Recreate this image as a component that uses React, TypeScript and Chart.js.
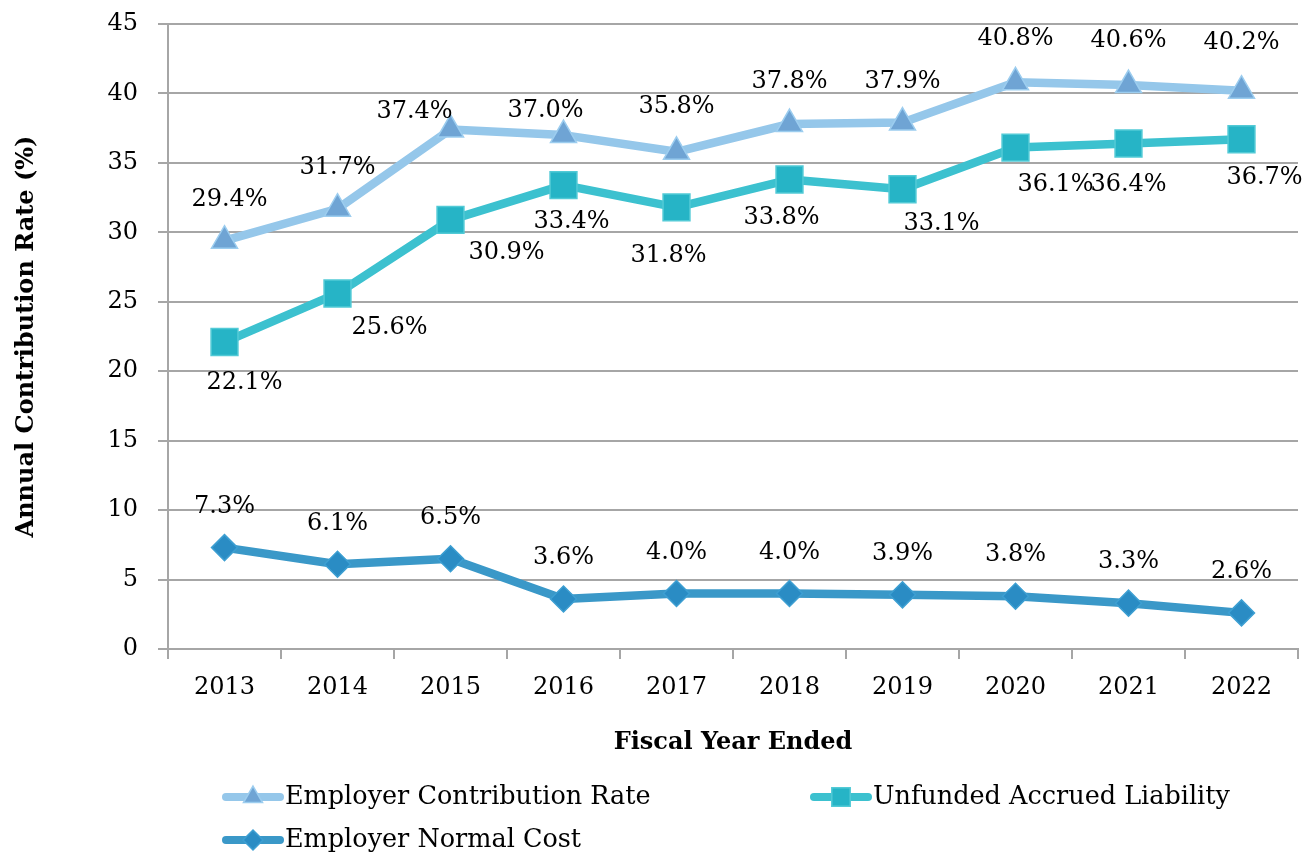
import React, { useEffect, useRef } from 'react';
import { Chart, registerables } from 'chart.js';

Chart.register(...registerables);

const years = ['2013', '2014', '2015', '2016', '2017', '2018', '2019', '2020', '2021', '2022'];
const employerContributionRate = [29.4, 31.7, 37.4, 37.0, 35.8, 37.8, 37.9, 40.8, 40.6, 40.2];
const unfundedAccruedLiability = [22.1, 25.6, 30.9, 33.4, 31.8, 33.8, 33.1, 36.1, 36.4, 36.7];
const employerNormalCost = [7.3, 6.1, 6.5, 3.6, 4.0, 4.0, 3.9, 3.8, 3.3, 2.6];
const yTickValues = [0, 5, 10, 15, 20, 25, 30, 35, 40, 45];
const seriesNames = ['Employer Contribution Rate', 'Unfunded Accrued Liability', 'Employer Normal Cost'];

// label nudges (pixels, relative to each point)
const ecrLabelDx = [5, 0, -36, -18, 0, 0, 0, 0, 0, 0];
const ecrLabelDy = [-41, -41, -18, -24, -45, -42, -41, -44, -44, -48];
const ualLabelDx = [20, 52, 56, 8, -8, -8, 39, 40, 0, 23];
const ualLabelDy = [41, 34, 33, 37, 48, 38, 34, 37, 41, 38];
const encLabelDx = [0, 0, 0, 0, 0, 0, 0, 0, 0, 0];
const encLabelDy = [-41, -41, -41, -41, -41, -41, -41, -41, -41, -41];

const FONT = "'DejaVu Serif', serif";
const GRID = '#a6a6a6';

const lineColors = ['#95c7ea', '#3cc1cf', '#3a98c8'];
const fillColors = ['#6fa4d4', '#26b4c6', '#2a8cc4'];
const borderColors = ['#9ccdef', '#52cad6', '#3d9fd2'];
const pointStyles = ['triangle', 'rect', 'rectRot'];

function drawMarker(ctx: CanvasRenderingContext2D, style: string, x: number, y: number, r: number, fill: string, stroke: string) {
  ctx.save();
  ctx.beginPath();
  if (style === 'triangle') {
    let rad = 0;
    ctx.moveTo(x + Math.sin(rad) * r, y - Math.cos(rad) * r);
    rad += (2 * Math.PI) / 3;
    ctx.lineTo(x + Math.sin(rad) * r, y - Math.cos(rad) * r);
    rad += (2 * Math.PI) / 3;
    ctx.lineTo(x + Math.sin(rad) * r, y - Math.cos(rad) * r);
    ctx.closePath();
  } else if (style === 'rect') {
    const s = Math.SQRT1_2 * r;
    ctx.rect(x - s, y - s, 2 * s, 2 * s);
  } else {
    ctx.moveTo(x - r, y);
    ctx.lineTo(x, y - r);
    ctx.lineTo(x + r, y);
    ctx.lineTo(x, y + r);
    ctx.closePath();
  }
  ctx.fillStyle = fill;
  ctx.fill();
  ctx.strokeStyle = stroke;
  ctx.lineWidth = 1.5;
  ctx.stroke();
  ctx.restore();
}

const labelPlugin = {
  id: 'valueLabels',
  afterDatasetsDraw(chart: any) {
    const ctx = chart.ctx as CanvasRenderingContext2D;
    const offsets = [
      [ecrLabelDx, ecrLabelDy],
      [ualLabelDx, ualLabelDy],
      [encLabelDx, encLabelDy],
    ];
    ctx.save();
    ctx.font = `24px ${FONT}`;
    ctx.fillStyle = '#000';
    ctx.textAlign = 'center';
    ctx.textBaseline = 'middle';
    chart.data.datasets.forEach((ds: any, i: number) => {
      const meta = chart.getDatasetMeta(i);
      meta.data.forEach((pt: any, j: number) => {
        const v = ds.data[j] as number;
        ctx.fillText(v.toFixed(1) + '%', pt.x + offsets[i][0][j], pt.y + offsets[i][1][j]);
      });
    });
    ctx.restore();
  },
};

const legendPlugin = {
  id: 'customLegend',
  afterDraw(chart: any) {
    const ctx = chart.ctx as CanvasRenderingContext2D;
    const slots = [
      { x: 222, y: 797 },
      { x: 810, y: 797 },
      { x: 222, y: 840 },
    ];
    const markerR = [11, 13, 10];
    ctx.save();
    chart.data.datasets.forEach((ds: any, i: number) => {
      const { x, y } = slots[i];
      ctx.beginPath();
      ctx.moveTo(x + 4, y);
      ctx.lineTo(x + 58, y);
      ctx.strokeStyle = lineColors[i];
      ctx.lineWidth = 8;
      ctx.lineCap = 'round';
      ctx.stroke();
      drawMarker(ctx, pointStyles[i], x + 31, y, markerR[i], fillColors[i], borderColors[i]);
      ctx.font = `25.5px ${FONT}`;
      ctx.fillStyle = '#000';
      ctx.textAlign = 'left';
      ctx.textBaseline = 'middle';
      ctx.fillText(ds.label, x + 63, y);
    });
    ctx.restore();
  },
};

export default function App() {
  const canvasRef = useRef<HTMLCanvasElement | null>(null);

  useEffect(() => {
    document.body.style.margin = '0';
    const canvas = canvasRef.current;
    if (!canvas) return;
    const seriesData = [employerContributionRate, unfundedAccruedLiability, employerNormalCost];
    const radii = [15, 19, 13];
    const chart = new Chart(canvas, {
      type: 'line',
      data: {
        labels: years,
        datasets: seriesData.map((d, i) => ({
          label: seriesNames[i],
          data: d,
          borderColor: lineColors[i],
          borderWidth: 8.5,
          pointStyle: pointStyles[i] as any,
          pointRadius: radii[i],
          pointBackgroundColor: fillColors[i],
          pointBorderColor: borderColors[i],
          pointBorderWidth: 1.5,
          tension: 0,
          borderJoinStyle: 'round' as const,
          borderCapStyle: 'round' as const,
        })),
      },
      options: {
        responsive: false,
        animation: false,
        devicePixelRatio: 1,
        layout: { autoPadding: false, padding: { left: 8, right: 9, top: 24, bottom: 99 } },
        plugins: {
          legend: { display: false },
          tooltip: { enabled: false },
        },
        scales: {
          x: {
            type: 'category',
            offset: true,
            grid: {
              offset: true,
              drawOnChartArea: false,
              drawTicks: true,
              tickLength: 10,
              color: GRID,
              lineWidth: 2,
            },
            border: { display: true, color: GRID, width: 2 },
            ticks: {
              font: { family: FONT, size: 24 },
              color: '#000',
              padding: 14,
              maxRotation: 0,
            },
            title: {
              display: true,
              text: 'Fiscal Year Ended',
              font: { family: FONT, size: 24, weight: 'bold' },
              color: '#000',
              padding: { top: 0, bottom: 3 },
            },
            afterFit(scale: any) {
              scale.height = 111;
              scale.paddingLeft = 0;
              scale.paddingRight = 0;
            },
          },
          y: {
            min: 0,
            max: 45,
            afterBuildTicks(scale: any) {
              scale.ticks = yTickValues.map((v) => ({ value: v }));
            },
            grid: {
              color: GRID,
              lineWidth: 2,
              drawTicks: true,
              tickLength: 10,
            },
            border: { display: true, color: GRID, width: 2 },
            ticks: {
              font: { family: FONT, size: 24 },
              color: '#000',
              padding: 20,
            },
            title: {
              display: true,
              text: 'Annual Contribution Rate (%)',
              font: { family: FONT, size: 24, weight: 'bold' },
              color: '#000',
              padding: { top: 4, bottom: 0 },
            },
            afterFit(scale: any) {
              scale.width = 160;
              scale.paddingTop = 0;
              scale.paddingBottom = 0;
            },
          },
        },
      },
      plugins: [labelPlugin, legendPlugin],
    });
    return () => chart.destroy();
  }, []);

  return (
    <div style={{ position: 'absolute', left: 0, top: 0, width: 1307, height: 859, background: '#fff' }}>
      <canvas ref={canvasRef} width={1307} height={859} />
    </div>
  );
}
